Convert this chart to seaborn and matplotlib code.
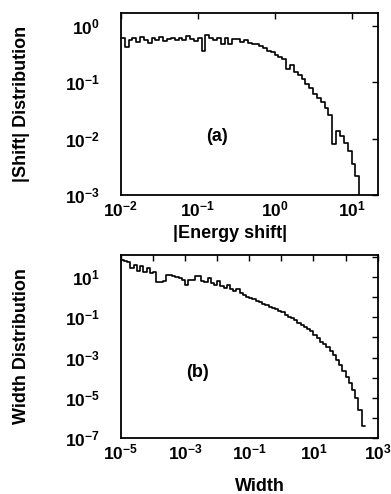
import numpy as np
import pandas as pd
import seaborn as sns
import matplotlib.pyplot as plt
from matplotlib.ticker import FixedLocator, NullFormatter

# (a) |Energy shift| distribution, bins of 0.05 decade (log10 of bin centre)
shift_log_x = [-1.975, -1.925, -1.875, -1.825, -1.775, -1.725, -1.675, -1.625, -1.575, -1.525,
               -1.475, -1.425, -1.375, -1.325, -1.275, -1.225, -1.175, -1.125, -1.075, -1.025,
               -0.975, -0.925, -0.875, -0.825, -0.775, -0.725, -0.675, -0.625, -0.575, -0.525,
               -0.475, -0.425, -0.375, -0.325, -0.275, -0.225, -0.175, -0.125, -0.075, -0.025,
               0.025, 0.075, 0.125, 0.175, 0.225, 0.275, 0.325, 0.375, 0.425, 0.475,
               0.525, 0.575, 0.625, 0.675, 0.725, 0.775, 0.825, 0.875, 0.925, 0.975,
               1.025, 1.075, 1.125]
shift_dist = [0.62, 0.42, 0.55, 0.60, 0.52, 0.63, 0.57, 0.50, 0.61, 0.56,
              0.64, 0.53, 0.58, 0.60, 0.55, 0.62, 0.57, 0.66, 0.59, 0.54,
              0.60, 0.36, 0.68, 0.62, 0.57, 0.61, 0.48, 0.60, 0.47, 0.58,
              0.58, 0.52, 0.55, 0.50, 0.48, 0.47, 0.44, 0.40, 0.36, 0.34,
              0.31, 0.28, 0.26, 0.17, 0.20, 0.155, 0.135, 0.112, 0.094, 0.080,
              0.063, 0.052, 0.044, 0.035, 0.026, 0.008, 0.0135, 0.011, 0.0083, 0.006,
              0.0035, 0.0022, 0.0009]

# (b) Width distribution, bins of 0.1 decade (log10 of bin centre)
width_log_x = [-4.95, -4.85, -4.75, -4.65, -4.55, -4.45, -4.35, -4.25, -4.15, -4.05,
               -3.95, -3.85, -3.75, -3.65, -3.55, -3.45, -3.35, -3.25, -3.15, -3.05,
               -2.95, -2.85, -2.75, -2.65, -2.55, -2.45, -2.35, -2.25, -2.15, -2.05,
               -1.95, -1.85, -1.75, -1.65, -1.55, -1.45, -1.35, -1.25, -1.15, -1.05,
               -0.95, -0.85, -0.75, -0.65, -0.55, -0.45, -0.35, -0.25, -0.15, -0.05,
               0.05, 0.15, 0.25, 0.35, 0.45, 0.55, 0.65, 0.75, 0.85, 0.95,
               1.05, 1.15, 1.25, 1.35, 1.45, 1.55, 1.65, 1.75, 1.85, 1.95,
               2.05, 2.15, 2.25, 2.35, 2.45, 2.55]
width_dist = [70, 63, 56, 28, 40, 20, 35, 18, 28, 16,
              18, 5.9, 5.9, 6.3, 12.6, 12.6, 11, 10, 9, 7.2,
              4.0, 7.2, 7.0, 11, 11, 6.3, 5.6, 9, 5.2, 4.0,
              6.3, 3.5, 2.8, 4.2, 2.5, 2.0, 2.6, 1.6, 1.3, 1.05,
              0.89, 0.8, 0.66, 0.56, 0.47, 0.41, 0.34, 0.30, 0.25, 0.21,
              0.18, 0.13, 0.107, 0.089, 0.071, 0.054, 0.042, 0.034, 0.026, 0.020,
              0.0135, 0.0095, 0.0063, 0.0045, 0.0032, 0.0022, 0.0014, 7.9e-4, 4.5e-4, 2.2e-4,
              1.1e-4, 5.6e-5, 2.5e-5, 1.0e-5, 2.5e-6, 4.0e-7]

sns.set_theme(style="white")
plt.rcParams['font.family'] = ['Liberation Sans', 'DejaVu Sans']
plt.rcParams['font.weight'] = 'bold'
plt.rcParams['mathtext.fontset'] = 'custom'
plt.rcParams['mathtext.rm'] = 'Liberation Sans:bold'
plt.rcParams['mathtext.default'] = 'rm'
plt.rcParams['axes.unicode_minus'] = False
plt.rcParams['text.color'] = 'black'
plt.rcParams['axes.labelcolor'] = 'black'

df_a = pd.DataFrame({"shift": np.power(10.0, shift_log_x), "dist": shift_dist})
df_b = pd.DataFrame({"width": np.power(10.0, width_log_x), "dist": width_dist})

fig = plt.figure(figsize=(3.91, 4.94), dpi=100)
ax1 = fig.add_axes([0.309, 0.605, 0.657, 0.369])
ax2 = fig.add_axes([0.309, 0.113, 0.657, 0.371])

sns.histplot(data=df_a, x="shift", weights="dist", bins=63, binrange=(-2, 1.15),
             element="step", fill=False, log_scale=(True, True), color="black",
             linewidth=1.2, ax=ax1)
sns.histplot(data=df_b, x="width", weights="dist", bins=76, binrange=(-5, 2.6),
             element="step", fill=False, log_scale=(True, True), color="black",
             linewidth=1.2, ax=ax2)

ax1.set_xlim(1e-2, 10 ** 1.34)
ax1.set_ylim(1e-3, 10 ** 0.23)
ax1.xaxis.set_major_locator(FixedLocator([1e-2, 1e-1, 1, 10]))
ax1.yaxis.set_major_locator(FixedLocator([1e-3, 1e-2, 1e-1, 1]))
ax1.xaxis.set_minor_locator(FixedLocator([]))
ax1.yaxis.set_minor_locator(FixedLocator([]))

ax2.set_xlim(1e-5, 1e3)
ax2.set_ylim(1e-7, 10 ** 2.1)
ax2.xaxis.set_major_locator(FixedLocator([1e-5, 1e-3, 1e-1, 10, 1e3]))
ax2.xaxis.set_minor_locator(FixedLocator([1e-4, 1e-2, 1, 1e2]))
ax2.yaxis.set_major_locator(FixedLocator([1e-7, 1e-5, 1e-3, 1e-1, 10]))
ax2.yaxis.set_minor_locator(FixedLocator([1e-6, 1e-4, 1e-2, 1, 1e2]))

for ax in (ax1, ax2):
    ax.xaxis.set_minor_formatter(NullFormatter())
    ax.yaxis.set_minor_formatter(NullFormatter())
    ax.tick_params(which='both', direction='in', top=True, right=True,
                   length=4, width=1, labelsize=12.5, colors='black')
    ax.tick_params(axis='x', pad=3)
    ax.tick_params(axis='y', pad=15)
    for s in ax.spines.values():
        s.set_color('black')
        s.set_linewidth(1.3)

ax1.set_xlabel("|Energy shift|", fontsize=13, fontweight='bold', color='black')
ax1.set_ylabel("|Shift| Distribution", fontsize=13, fontweight='bold', color='black')
ax1.xaxis.set_label_coords(0.424, -0.165)
ax1.yaxis.set_label_coords(-0.355, 0.5)
ax1.text(0.373, 0.319, "(a)", transform=ax1.transAxes, ha='center', va='center',
         fontsize=13, fontweight='bold', color='black')

ax2.set_xlabel("Width", fontsize=13, fontweight='bold', color='black')
ax2.set_ylabel("Width Distribution", fontsize=13, fontweight='bold', color='black')
ax2.xaxis.set_label_coords(0.54, -0.215)
ax2.yaxis.set_label_coords(-0.355, 0.5)
ax2.text(0.30, 0.36, "(b)", transform=ax2.transAxes, ha='center', va='center',
         fontsize=13, fontweight='bold', color='black')

fig.savefig("out.png", dpi=100)
